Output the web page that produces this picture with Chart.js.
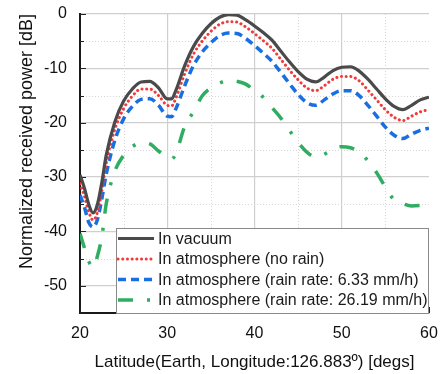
<!DOCTYPE html>
<html lang="en">
<head>
<meta charset="UTF-8" />
<title>Normalized received power</title>
<script src="https://cdn.jsdelivr.net/npm/chart.js"></script>
<style>
  html, body { margin: 0; padding: 0; background: #fff; }
  canvas { display: block; }
</style>
</head>
<body>
<canvas id="powerChart" width="442" height="374"></canvas>
<script>
// latitude samples (degs)
const latitude = [20, 20.5, 21, 21.5, 22, 22.5, 23, 24, 25, 26, 27, 28, 29, 30, 30.5, 31, 32, 33, 34, 35, 36, 37, 38, 39, 40,
  41, 42, 43, 44, 45, 46, 47, 48, 49, 50, 51, 52, 53, 54, 55, 56, 57, 58, 59, 60];

const vacuum = [-29.6, -32, -35, -36.6, -35, -31, -26, -19.8, -16, -13.8, -12.5, -12.4, -13.6, -15.6, -15.6, -14, -9.5, -6, -3.6, -1.8, -0.6, -0.1, -0.2, -1.1, -2.2,
  -3.4, -4.8, -6.8, -8.8, -10.6, -12, -12.5, -11.6, -10.4, -9.8, -9.7, -10.5, -12, -13.8, -15.6, -17, -17.6, -16.8, -15.8, -15.3];

const noRain = [-31.2, -33.5, -36.4, -37.9, -36.5, -32.5, -27.5, -21.2, -17.4, -15.1, -13.8, -13.8, -15, -16.8, -16.9, -15.4, -11, -7.4, -5, -3.2, -1.9, -1.4, -1.5, -2.4, -3.6,
  -4.9, -6.3, -8.3, -10.3, -12.1, -13.6, -14.1, -13.2, -12, -11.5, -11.5, -12.3, -14, -15.8, -17.6, -19, -19.6, -18.8, -18, -17.6];

const rain633 = [-33.3, -35.5, -38.3, -39.2, -37.8, -34, -29.5, -23.2, -19.3, -17, -15.7, -15.6, -16.8, -18.8, -18.9, -17.4, -13.2, -9.5, -7, -5.3, -4, -3.5, -3.6, -4.5, -5.8,
  -7.2, -8.7, -10.7, -12.8, -14.8, -16.3, -16.8, -15.8, -14.7, -14.1, -14.1, -15, -16.8, -18.8, -20.8, -22.3, -22.9, -22.1, -21.4, -21];

const rain2619 = [-40.4, -43, -45.5, -46.6, -44.5, -41, -35, -28.9, -26, -24.4, -23.7, -23.9, -25.2, -26.4, -26.7, -25.6, -20.7, -18, -15.1, -13.6, -12.7, -12.2, -12.4, -12.9, -14.1,
  -15.3, -17.2, -19.1, -21.4, -23.6, -25.4, -26.3, -25.8, -24.8, -24.4, -24.6, -25.4, -27, -29.2, -31.8, -34.2, -34.9, -35.3, -35.2, -35];

const seriesNames = [
  'In vacuum',
  'In atmosphere (no rain)',
  'In atmosphere (rain rate: 6.33 mm/h)',
  'In atmosphere (rain rate: 26.19 mm/h)'
];

const xTicks = [20, 30, 40, 50, 60];
const yTicks = [0, -10, -20, -30, -40, -50];

const FONT = '"Liberation Sans", Arial, sans-serif';

function pts(ys){
  return latitude.map((x, i) => ({ x: x, y: ys[i] }));
}

// minor dotted grid + inward ticks
const minorGrid = {
  id: 'minorGrid',
  beforeDatasetsDraw(chart){
    const { ctx, chartArea: a, scales: { x, y } } = chart;
    ctx.save();
    ctx.strokeStyle = '#d6d6d6';
    ctx.lineWidth = 1;
    ctx.setLineDash([1, 2]);
    for(let v = 25; v < 60; v += 10){
      const px = Math.round(x.getPixelForValue(v)) + 0.5;
      ctx.beginPath(); ctx.moveTo(px, a.top); ctx.lineTo(px, a.bottom); ctx.stroke();
    }
    for(let v = -5; v > -55; v -= 10){
      const py = Math.round(y.getPixelForValue(v)) + 0.5;
      ctx.beginPath(); ctx.moveTo(a.left, py); ctx.lineTo(a.right, py); ctx.stroke();
    }
    ctx.setLineDash([]);
    ctx.strokeStyle = '#222';
    ctx.lineWidth = 1;
    for(let v = 20; v <= 60; v += 5){
      const px = Math.round(x.getPixelForValue(v)) + 0.5;
      const len = v % 10 === 0 ? 6 : 4;
      ctx.beginPath(); ctx.moveTo(px, a.bottom); ctx.lineTo(px, a.bottom - len); ctx.stroke();
    }
    for(let v = 0; v >= -55; v -= 5){
      const py = Math.round(y.getPixelForValue(v)) + 0.5;
      const len = v % 10 === 0 ? 6 : 4;
      ctx.beginPath(); ctx.moveTo(a.left, py); ctx.lineTo(a.left + len, py); ctx.stroke();
    }
    ctx.restore();
  }
};

// boxed legend inside the plot, bottom right
const boxLegend = {
  id: 'boxLegend',
  afterDatasetsDraw(chart){
    const { ctx, chartArea: a } = chart;
    const left = 116, top = 228, right = a.right, bottom = a.bottom;
    ctx.save();
    ctx.fillStyle = '#fff';
    ctx.fillRect(left, top, right - left, bottom - top);
    ctx.strokeStyle = '#8a8a8a';
    ctx.lineWidth = 1;
    ctx.strokeRect(left + 0.5, top + 0.5, right - left - 1, bottom - top);
    const rowY = [238.5, 259, 279.5, 300];
    chart.data.datasets.forEach((ds, i) => {
      const yy = rowY[i];
      ctx.strokeStyle = ds.borderColor;
      ctx.lineWidth = ds.borderWidth;
      ctx.lineCap = ds.borderCapStyle || 'butt';
      ctx.setLineDash(ds.borderDash || []);
      ctx.beginPath(); ctx.moveTo(118, yy); ctx.lineTo(154, yy); ctx.stroke();
      ctx.setLineDash([]);
      ctx.fillStyle = '#1a1a1a';
      ctx.font = '16px ' + FONT;
      ctx.textBaseline = 'middle';
      ctx.textAlign = 'left';
      ctx.fillText(ds.label, 158, yy + 1);
    });
    ctx.restore();
  }
};

const ctx = document.getElementById('powerChart').getContext('2d');
new Chart(ctx, {
  type: 'line',
  data: {
    datasets: [
      { label: seriesNames[0], data: pts(vacuum), borderColor: '#4a4a4a', borderWidth: 3.2 },
      { label: seriesNames[1], data: pts(noRain), borderColor: '#f23a3a', borderWidth: 3, borderDash: [0.1, 4.6], borderCapStyle: 'round' },
      { label: seriesNames[2], data: pts(rain633), borderColor: '#1a6fe0', borderWidth: 3.5, borderDash: [8, 5] },
      { label: seriesNames[3], data: pts(rain2619), borderColor: '#2fae62', borderWidth: 3.5, borderDash: [15, 14, 3, 14] }
    ]
  },
  options: {
    responsive: false,
    animation: false,
    layout: { padding: { top: 14, right: 13, left: 0, bottom: 0 } },
    elements: {
      point: { radius: 0 },
      line: { cubicInterpolationMode: 'monotone', fill: false }
    },
    plugins: { legend: { display: false }, tooltip: { enabled: false } },
    scales: {
      x: {
        type: 'linear',
        min: 20, max: 60,
        afterFit(s){ s.height = 61; s.paddingLeft = 0; s.paddingRight = 0; },
        afterBuildTicks(s){ s.ticks = xTicks.map(v => ({ value: v })); },
        ticks: { color: '#111', font: { family: FONT, size: 16 }, padding: 11, maxRotation: 0 },
        grid: { color: c => (c.tick && c.tick.value === 60) ? 'rgba(0,0,0,0)' : '#cfcfcf', lineWidth: 1.2, drawTicks: false },
        border: { color: '#1a1a1a', width: 2 },
        title: { display: true, text: 'Latitude(Earth, Longitude:126.883º) [degs]', color: '#111', font: { family: FONT, size: 17 }, padding: { top: 0, bottom: 1.5 } }
      },
      y: {
        type: 'linear',
        min: -55, max: 0,
        afterFit(s){ s.width = 80; s.paddingTop = 0; s.paddingBottom = 0; },
        afterBuildTicks(s){ s.ticks = yTicks.map(v => ({ value: v })); },
        ticks: { color: '#111', font: { family: FONT, size: 16 }, padding: 13 },
        grid: { color: '#cfcfcf', lineWidth: 1.2, drawTicks: false },
        border: { color: '#1a1a1a', width: 2 },
        title: { display: true, text: 'Normalized received power [dB]', align: 'end', color: '#111', font: { family: FONT, size: 18 }, padding: { top: 16, bottom: 0 } }
      }
    }
  },
  plugins: [minorGrid, boxLegend]
});
</script>
</body>
</html>
